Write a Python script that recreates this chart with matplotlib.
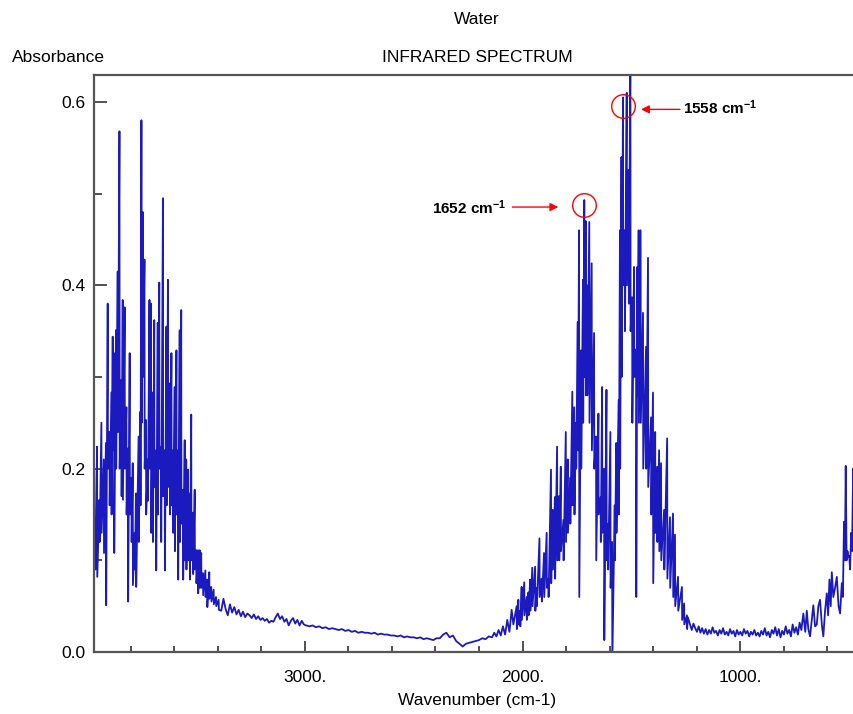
import numpy as np
import matplotlib.pyplot as plt
from matplotlib.ticker import FixedLocator, MultipleLocator, FormatStrFormatter
from matplotlib.transforms import offset_copy

plt.rcParams['font.family'] = ['Liberation Sans', 'DejaVu Sans']
plt.rcParams['mathtext.fontset'] = 'custom'
plt.rcParams['mathtext.rm'] = 'Liberation Sans'
plt.rcParams['mathtext.bf'] = 'Liberation Sans:bold'
plt.rcParams['mathtext.default'] = 'bf'

# O-H stretch band (spike positions, spike tops, spike bottoms)
band1_wn = [3969, 3964, 3956, 3945, 3936, 3925, 3915, 3907, 3899, 3890, 3884, 3878, 3869, 3861,
            3853, 3844, 3838, 3829, 3821, 3814, 3806, 3798, 3792, 3783, 3777, 3765, 3757, 3752,
            3746, 3738, 3731, 3723, 3715, 3708, 3700, 3693, 3685, 3677, 3670, 3662, 3653, 3645,
            3637, 3630, 3622, 3614, 3607, 3599, 3591, 3584, 3576, 3569, 3561, 3553, 3546, 3538,
            3530, 3523, 3515, 3507, 3500, 3492, 3484, 3477, 3469, 3458, 3450, 3440, 3431, 3420,
            3409, 3397]
band1_top = [0.2, 0.122, 0.224, 0.166, 0.25, 0.21, 0.228, 0.38, 0.24, 0.283, 0.344, 0.326, 0.351, 0.415,
             0.568, 0.297, 0.384, 0.376, 0.267, 0.222, 0.326, 0.19, 0.206, 0.13, 0.173, 0.235, 0.262, 0.58,
             0.48, 0.428, 0.253, 0.21, 0.384, 0.38, 0.283, 0.362, 0.22, 0.359, 0.403, 0.224, 0.495, 0.22,
             0.355, 0.406, 0.293, 0.326, 0.22, 0.289, 0.329, 0.22, 0.351, 0.373, 0.177, 0.231, 0.21, 0.199,
             0.173, 0.259, 0.152, 0.177, 0.111, 0.111, 0.111, 0.108, 0.086, 0.089, 0.079, 0.087, 0.071, 0.068,
             0.06, 0.057]
band1_low = [0.1, 0.09, 0.082, 0.12, 0.13, 0.108, 0.051, 0.2, 0.16, 0.15, 0.22, 0.108, 0.2, 0.24,
             0.2, 0.17, 0.166, 0.2, 0.15, 0.055, 0.15, 0.12, 0.073, 0.09, 0.071, 0.12, 0.16, 0.25,
             0.3, 0.2, 0.15, 0.165, 0.2, 0.13, 0.12, 0.18, 0.089, 0.15, 0.2, 0.12, 0.17, 0.089,
             0.16, 0.18, 0.15, 0.16, 0.13, 0.11, 0.15, 0.079, 0.12, 0.14, 0.079, 0.1, 0.09, 0.1,
             0.079, 0.1, 0.085, 0.09, 0.075, 0.064, 0.07, 0.07, 0.062, 0.06, 0.049, 0.058, 0.055, 0.052,
             0.05, 0.046]

# quiet region 3385-2042
base1_wn = [3385, 3375, 3365, 3355, 3345, 3335, 3325, 3315, 3305, 3295,
            3285, 3275, 3265, 3255, 3245, 3235, 3225, 3215, 3205, 3195,
            3185, 3175, 3165, 3155, 3145, 3135, 3125, 3115, 3105, 3095,
            3085, 3075, 3065, 3055, 3045, 3035, 3025, 3015, 3005, 2995,
            2980, 2965, 2950, 2935, 2920, 2905, 2890, 2875, 2860, 2845,
            2830, 2815, 2800, 2785, 2770, 2755, 2740, 2725, 2710, 2695,
            2680, 2665, 2650, 2635, 2620, 2605, 2590, 2575, 2560, 2545,
            2530, 2515, 2500, 2485, 2470, 2455, 2440, 2425, 2410, 2395,
            2380, 2365, 2350, 2335, 2320, 2305, 2290, 2275, 2260, 2245,
            2230, 2215, 2200, 2185, 2170, 2155, 2140,
            2130, 2120, 2110, 2100, 2090, 2080, 2070, 2060, 2050, 2042]
base1_abs = [0.045, 0.058, 0.047, 0.04, 0.052, 0.043, 0.049, 0.041, 0.046, 0.039,
             0.044, 0.038, 0.042, 0.04, 0.037, 0.041, 0.036, 0.039, 0.035, 0.037,
             0.034, 0.036, 0.032, 0.034, 0.033, 0.038, 0.042, 0.036, 0.039, 0.033,
             0.036, 0.029, 0.034, 0.037, 0.031, 0.035, 0.029, 0.034, 0.03, 0.029,
             0.028, 0.029, 0.027, 0.028, 0.026, 0.027, 0.025, 0.026, 0.025, 0.024,
             0.025, 0.023, 0.024, 0.022, 0.023, 0.021, 0.022, 0.021, 0.021, 0.02,
             0.021, 0.019, 0.02, 0.019, 0.019, 0.018, 0.018, 0.017, 0.018, 0.016,
             0.017, 0.016, 0.016, 0.015, 0.016, 0.014, 0.015, 0.014, 0.013, 0.015,
             0.015, 0.019, 0.021, 0.016, 0.018, 0.012, 0.009, 0.006, 0.009, 0.01,
             0.011, 0.012, 0.013, 0.015, 0.014, 0.017, 0.016,
             0.021, 0.017, 0.024, 0.018, 0.028, 0.019, 0.035, 0.022, 0.046, 0.03]

# bending band, high-wavenumber branch
band2_wn = [2027, 2019, 2011, 2004, 1992, 1981, 1973, 1965, 1955, 1942, 1935, 1922, 1912, 1901,
            1889, 1881, 1869, 1861, 1851, 1841, 1832, 1824, 1812, 1801, 1792, 1781, 1771, 1762,
            1754, 1746, 1740, 1731, 1722, 1716, 1709, 1703, 1693, 1682, 1671, 1662, 1651, 1641]
band2_top = [0.05, 0.057, 0.045, 0.071, 0.076, 0.06, 0.065, 0.079, 0.092, 0.093, 0.07, 0.124, 0.08, 0.108,
             0.13, 0.08, 0.199, 0.155, 0.169, 0.224, 0.17, 0.202, 0.144, 0.24, 0.21, 0.19, 0.284, 0.267,
             0.25, 0.36, 0.46, 0.329, 0.406, 0.493, 0.47, 0.4, 0.469, 0.424, 0.348, 0.235, 0.26, 0.169]
band2_low = [0.025, 0.03, 0.028, 0.035, 0.04, 0.035, 0.04, 0.045, 0.05, 0.045, 0.05, 0.06, 0.055, 0.06,
             0.07, 0.06, 0.075, 0.09, 0.08, 0.1, 0.1, 0.11, 0.1, 0.12, 0.13, 0.14, 0.16, 0.15,
             0.2, 0.22, 0.06, 0.2, 0.25, 0.3, 0.28, 0.28, 0.25, 0.22, 0.2, 0.1, 0.15, 0.12]

# bending band, low-wavenumber branch
band3_wn = [1634, 1625, 1614, 1607, 1596, 1588, 1576, 1569, 1558, 1552, 1545, 1538, 1530, 1521,
            1512, 1504, 1496, 1487, 1478, 1472, 1466, 1457, 1446, 1432, 1423, 1409, 1400, 1390,
            1381, 1372, 1363, 1349, 1335, 1322, 1308, 1299, 1285, 1267, 1257, 1244]
band3_top = [0.289, 0.2, 0.286, 0.14, 0.24, 0.12, 0.16, 0.228, 0.275, 0.46, 0.54, 0.605, 0.46, 0.61,
             0.526, 0.66, 0.387, 0.42, 0.33, 0.42, 0.46, 0.46, 0.37, 0.333, 0.43, 0.256, 0.283, 0.24,
             0.202, 0.22, 0.206, 0.155, 0.233, 0.147, 0.151, 0.128, 0.082, 0.071, 0.053, 0.04]
band3_low = [0.13, 0.013, 0.1, 0.09, 0.07, -0.01, 0.1, 0.13, 0.15, 0.2, 0.3, 0.4, 0.35, 0.4,
             0.38, 0.35, 0.25, 0.3, 0.06, 0.28, 0.25, 0.25, 0.2, 0.2, 0.18, 0.15, 0.075, 0.13,
             0.12, 0.11, 0.1, 0.09, 0.08, 0.07, 0.06, 0.05, 0.045, 0.035, 0.03, 0.025]

# quiet region 1240-718
base2_wn = [1240, 1230, 1222, 1214, 1206, 1198, 1190, 1182, 1174, 1166, 1158, 1150, 1142, 1134,
            1126, 1118, 1110, 1102, 1094, 1086, 1078, 1070, 1062, 1054, 1046, 1038, 1030, 1022,
            1014, 1006, 998, 990, 982, 974, 966, 958, 950, 942, 934, 926, 918, 910, 902, 894,
            886, 878, 870, 862, 854, 846, 838, 830, 822, 814, 806, 798, 790, 782, 774, 766,
            758, 750, 742, 734, 726, 718]
base2_abs = [0.038, 0.03, 0.024, 0.031, 0.026, 0.022, 0.028, 0.021, 0.026, 0.02, 0.025, 0.019, 0.024, 0.02,
             0.027, 0.021, 0.023, 0.018, 0.024, 0.02, 0.026, 0.019, 0.022, 0.018, 0.025, 0.02, 0.023, 0.017,
             0.024, 0.019, 0.022, 0.018, 0.025, 0.02, 0.023, 0.017, 0.022, 0.019, 0.024, 0.018, 0.021, 0.017,
             0.023, 0.019, 0.026, 0.018, 0.022, 0.016, 0.024, 0.02, 0.027, 0.018, 0.025, 0.016, 0.023, 0.019,
             0.028, 0.02, 0.024, 0.017, 0.03, 0.021, 0.027, 0.019, 0.032, 0.024]

# rising edge toward the pure rotation band
rise_wn = [709, 700, 693, 686, 678, 670, 663, 655, 647, 640, 632, 624, 617, 609, 601, 595, 589, 583, 578,
           571, 563, 555, 547, 540, 532, 527, 522, 518, 514, 510, 506, 502, 498, 494, 489, 485, 480, 476]
rise_abs = [0.042, 0.022, 0.045, 0.025, 0.017, 0.035, 0.051, 0.028, 0.03, 0.05, 0.057, 0.03, 0.017, 0.045,
            0.064, 0.04, 0.079, 0.05, 0.087, 0.06, 0.07, 0.082, 0.05, 0.042, 0.075, 0.06, 0.142, 0.1,
            0.203, 0.1, 0.11, 0.104, 0.105, 0.09, 0.13, 0.11, 0.2, 0.15]

peak_names = ['1652 cm$^{-1}$', '1558 cm$^{-1}$']
peak_wn = [1716, 1538]


def spikes(wn, top, low):
    xs, ys = [], []
    for w, t, l in zip(wn, top, low):
        xs += [w, w - 1]
        ys += [t, l]
    return xs, ys


x1, y1 = spikes(band1_wn, band1_top, band1_low)
x2, y2 = spikes(band2_wn, band2_top, band2_low)
x3, y3 = spikes(band3_wn, band3_top, band3_low)
wavenumber = np.concatenate([x1, base1_wn, x2, x3, base2_wn, rise_wn])
absorbance = np.concatenate([y1, base1_abs, y2, y3, base2_abs, rise_abs])

fig = plt.figure(figsize=(8.54, 7.14), dpi=100)
ax = fig.add_axes([94 / 854, 62 / 714, 760 / 854, 577 / 714])
ax.plot(wavenumber, absorbance, color='#1a1abf', lw=1.3)
ax.set_xlim(3970, 476)
ax.set_ylim(0, 0.6294)

ax.xaxis.set_major_locator(FixedLocator([3000, 2000, 1000]))
ax.xaxis.set_minor_locator(MultipleLocator(200))
ax.xaxis.set_major_formatter(FormatStrFormatter('%d.'))
ax.yaxis.set_major_locator(FixedLocator([0.0, 0.2, 0.4, 0.6]))
ax.yaxis.set_minor_locator(MultipleLocator(0.1))
ax.yaxis.set_major_formatter(FormatStrFormatter('%.1f'))
ax.tick_params(axis='x', which='major', direction='in', length=8, width=1.2, color='#333333',
               pad=13, labelsize=12.5)
ax.tick_params(axis='x', which='minor', direction='in', length=4.5, width=1.2, color='#333333')
ax.tick_params(axis='y', which='major', direction='in', length=9.4, width=1.2, color='#333333',
               pad=6, labelsize=12.5)
ax.tick_params(axis='y', which='minor', direction='in', length=5.8, width=1.2, color='#333333')
for side in ['left', 'bottom', 'top']:
    ax.spines[side].set_color('#555555')
    ax.spines[side].set_linewidth(1.6)
ax.spines['right'].set_visible(False)

fig.text(477 / 854, 1 - 20 / 714, 'Water', ha='center', va='center', fontsize=12.5)
fig.text(477 / 854, 1 - 57 / 714, 'INFRARED SPECTRUM', ha='center', va='center', fontsize=12.5)
fig.text(12 / 854, 1 - 57 / 714, 'Absorbance', ha='left', va='center', fontsize=12.5)
fig.text(477 / 854, 1 - 700 / 714, 'Wavenumber (cm-1)', ha='center', va='center', fontsize=12.5)

# circled peaks with red arrows (offsets in pixels from the spike top)
layout = [
    dict(circle=(0, -5), head=(-26, -7), tail=(-72, -7), text=(-78, -8), ha='right'),
    dict(circle=(0, -9), head=(18, -12), tail=(57, -12), text=(60, -10), ha='left'),
]
for name, w, lay in zip(peak_names, peak_wn, layout):
    a = absorbance[np.flatnonzero(wavenumber == w)[0]]
    tc = offset_copy(ax.transData, fig=fig, x=lay['circle'][0], y=lay['circle'][1], units='dots')
    ax.plot([w], [a], 'o', ms=17, mfc='none', mec='red', mew=1.0, transform=tc, clip_on=False)
    th = offset_copy(ax.transData, fig=fig, x=lay['head'][0], y=lay['head'][1], units='dots')
    tt = offset_copy(ax.transData, fig=fig, x=lay['tail'][0], y=lay['tail'][1], units='dots')
    ax.annotate('', xy=(w, a), xycoords=th, xytext=(w, a), textcoords=tt,
                arrowprops=dict(arrowstyle='-|>', color='red', lw=1.0, mutation_scale=12,
                                shrinkA=0, shrinkB=0))
    tx = offset_copy(ax.transData, fig=fig, x=lay['text'][0], y=lay['text'][1], units='dots')
    ax.text(w, a, name, transform=tx, ha=lay['ha'], va='center', fontsize=11, fontweight='bold')

fig.savefig('out.png', dpi=100)
